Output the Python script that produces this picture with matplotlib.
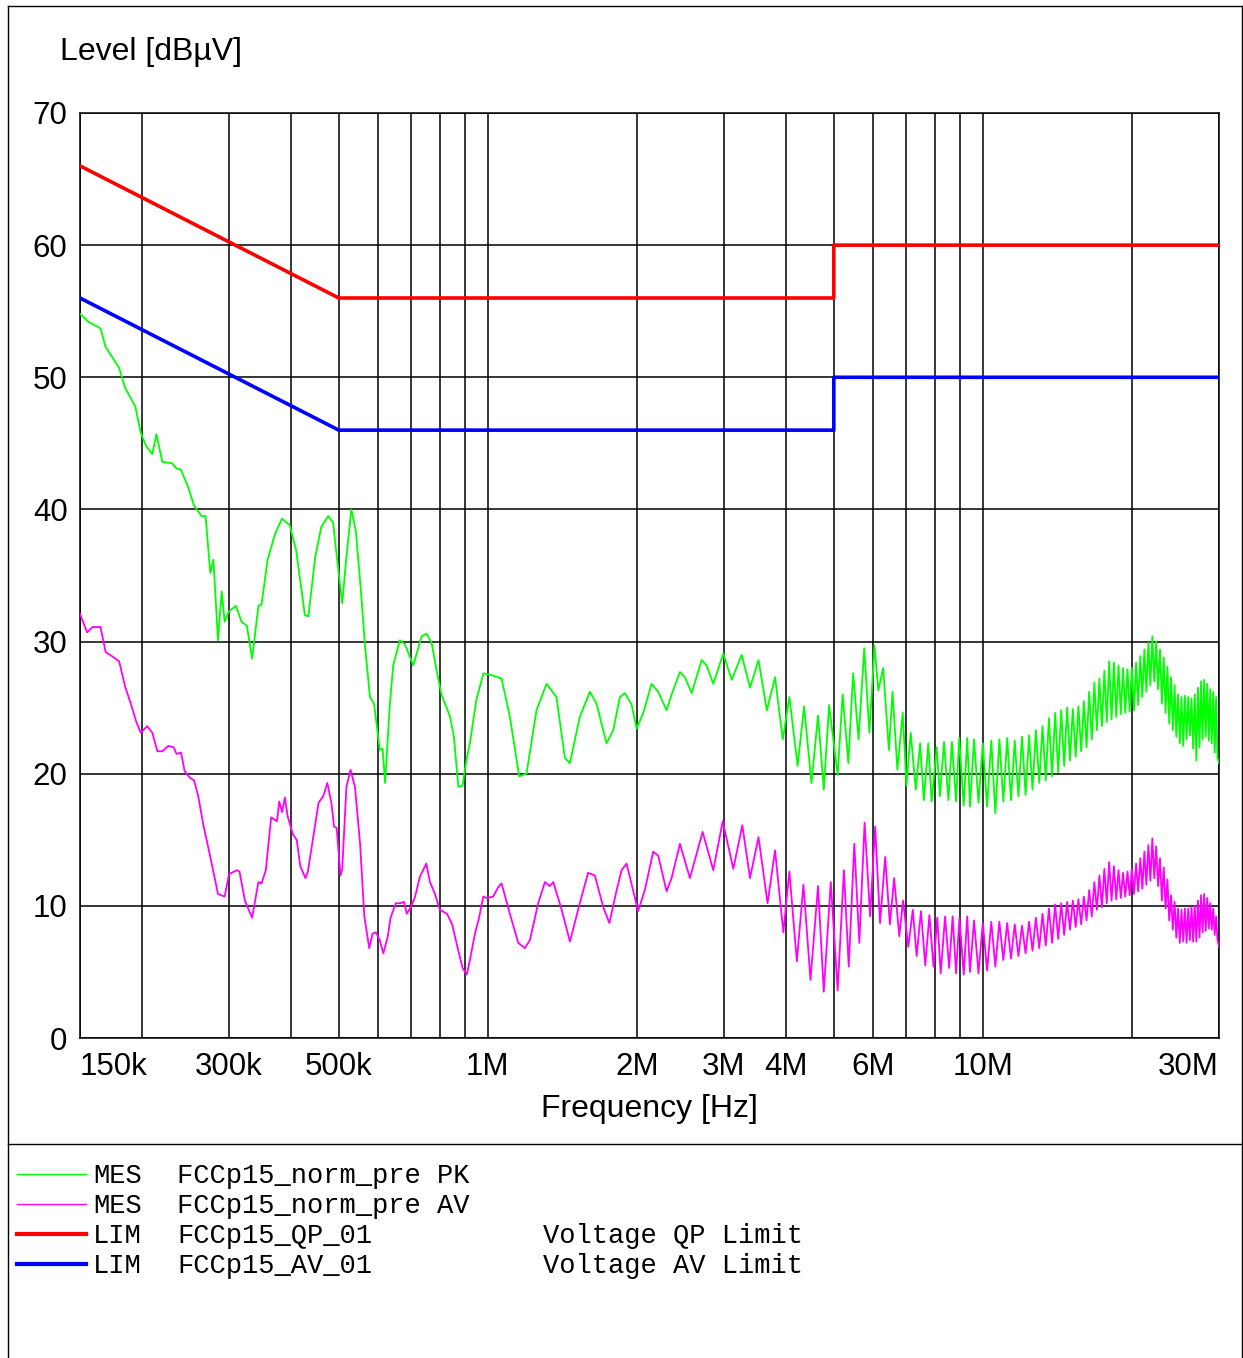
import matplotlib.pyplot as plt
from matplotlib.lines import Line2D
from matplotlib.ticker import NullLocator

plt.rcParams['font.family'] = ['Liberation Sans', 'DejaVu Sans']

# --- measured peak trace (MHz, dBuV) below 10 MHz ---
pk_freq_mhz = [
    0.150, 0.156, 0.165, 0.169, 0.180, 0.185, 0.194, 0.199, 0.204, 0.210,
    0.214, 0.220, 0.230, 0.235, 0.240, 0.248, 0.255, 0.264, 0.269, 0.275,
    0.279, 0.285, 0.290, 0.294, 0.300, 0.310, 0.318, 0.326, 0.334, 0.344,
    0.349, 0.359, 0.372, 0.384, 0.398, 0.410, 0.427, 0.434, 0.448, 0.461,
    0.476, 0.487, 0.491, 0.508, 0.518, 0.530, 0.541, 0.554, 0.565, 0.578,
    0.589, 0.605, 0.613, 0.620, 0.634, 0.644, 0.664, 0.680, 0.707, 0.735,
    0.752, 0.770, 0.788, 0.806, 0.839, 0.854, 0.872, 0.889, 0.905, 0.920,
    0.948, 0.980, 1.009, 1.049, 1.066, 1.108, 1.157, 1.197, 1.254, 1.314,
    1.376, 1.431, 1.465, 1.534, 1.608, 1.658, 1.737, 1.792, 1.849, 1.892,
    1.953, 1.998, 2.060, 2.142, 2.209, 2.297, 2.351, 2.444, 2.501, 2.581,
    2.704, 2.766, 2.854, 2.990, 3.109, 3.257, 3.386, 3.522, 3.662, 3.804,
    3.943, 4.066, 4.225, 4.354, 4.506, 4.646, 4.772, 4.891, 5.09, 5.21,
    5.35, 5.47, 5.61, 5.76, 5.90, 6.04, 6.15, 6.29, 6.46, 6.57,
    6.72, 6.89, 7.01, 7.15, 7.32, 7.47, 7.60, 7.76, 7.88, 8.07,
    8.19, 8.35, 8.52, 8.66, 8.83, 8.96, 9.15, 9.30, 9.42, 9.60,
    9.80]
pk_level = [
    54.8, 54.2, 53.7, 52.3, 50.7, 49.2, 47.8, 45.8, 44.8, 44.2,
    45.7, 43.6, 43.5, 43.1, 43.0, 41.7, 40.3, 39.5, 39.5, 35.2,
    36.2, 30.1, 33.8, 31.5, 32.3, 32.7, 31.5, 31.2, 28.7, 32.7,
    32.8, 36.2, 38.2, 39.3, 38.8, 36.9, 32.0, 31.9, 36.4, 38.7,
    39.5, 39.0, 37.7, 32.9, 36.4, 40.0, 38.4, 33.9, 29.6, 25.8,
    25.3, 21.8, 21.9, 19.3, 25.3, 28.2, 30.1, 29.8, 28.2, 30.4,
    30.6, 29.9, 27.8, 26.0, 24.3, 22.8, 19.0, 19.1, 21.0, 22.3,
    25.6, 27.6, 27.5, 27.3, 27.2, 24.3, 19.8, 20.0, 24.8, 26.8,
    25.8, 21.2, 20.8, 24.3, 26.2, 25.3, 22.3, 23.3, 25.8, 26.1,
    25.2, 23.4, 24.6, 26.8, 26.2, 24.8, 26.0, 27.7, 27.3, 26.1,
    28.6, 28.2, 26.8, 29.1, 27.1, 29.0, 26.5, 28.6, 24.8, 27.3,
    22.6, 25.8, 20.6, 25.1, 19.3, 24.4, 18.8, 25.2, 19.9, 26.0,
    20.8, 27.6, 22.6, 29.5, 23.1, 29.7, 26.3, 28.0, 21.8, 26.2,
    20.3, 24.6, 19.1, 23.1, 18.8, 22.3, 18.0, 22.3, 17.9, 22.0,
    18.3, 22.4, 18.0, 22.4, 17.9, 22.7, 17.6, 22.7, 17.5, 22.6,
    17.8]

# --- measured average trace below 10 MHz ---
av_freq_mhz = [
    0.150, 0.155, 0.159, 0.165, 0.169, 0.174, 0.180, 0.185, 0.190, 0.195,
    0.199, 0.205, 0.210, 0.215, 0.220, 0.226, 0.232, 0.235, 0.240, 0.244,
    0.250, 0.255, 0.260, 0.266, 0.275, 0.285, 0.294, 0.300, 0.311, 0.315,
    0.323, 0.334, 0.344, 0.349, 0.356, 0.365, 0.375, 0.379, 0.384, 0.389,
    0.394, 0.404, 0.411, 0.418, 0.428, 0.433, 0.446, 0.455, 0.465, 0.474,
    0.483, 0.489, 0.495, 0.504, 0.508, 0.518, 0.528, 0.539, 0.552, 0.563,
    0.576, 0.585, 0.594, 0.605, 0.615, 0.628, 0.636, 0.652, 0.666, 0.677,
    0.686, 0.699, 0.713, 0.729, 0.751, 0.764, 0.782, 0.800, 0.827, 0.847,
    0.868, 0.889, 0.907, 0.920, 0.942, 0.960, 0.979, 0.994, 1.025, 1.049,
    1.066, 1.108, 1.152, 1.188, 1.216, 1.264, 1.304, 1.334, 1.356, 1.410,
    1.465, 1.534, 1.594, 1.645, 1.711, 1.760, 1.821, 1.863, 1.907, 1.953,
    2.012, 2.076, 2.158, 2.209, 2.297, 2.351, 2.444, 2.560, 2.716, 2.854,
    2.982, 3.133, 3.267, 3.386, 3.522, 3.674, 3.804, 3.954, 4.066, 4.210,
    4.341, 4.486, 4.646, 4.772, 4.93, 5.09, 5.24, 5.36, 5.50, 5.63,
    5.77, 5.92, 6.06, 6.20, 6.35, 6.49, 6.62, 6.78, 6.90, 7.07,
    7.22, 7.35, 7.50, 7.65, 7.80, 7.95, 8.09, 8.22, 8.39, 8.55,
    8.69, 8.83, 8.97, 9.15, 9.30, 9.42, 9.60, 9.80]
av_level = [
    32.1, 30.7, 31.1, 31.1, 29.2, 28.9, 28.5, 26.6, 25.3, 23.9,
    23.1, 23.6, 23.1, 21.7, 21.7, 22.1, 22.0, 21.5, 21.6, 20.2,
    19.7, 19.5, 18.3, 16.2, 13.7, 10.9, 10.7, 12.4, 12.7, 12.6,
    10.4, 9.1, 11.8, 11.7, 12.7, 16.7, 16.4, 17.9, 17.1, 18.2,
    16.8, 15.4, 15.0, 13.0, 12.1, 12.6, 15.7, 17.8, 18.3, 19.3,
    17.8, 16.0, 15.9, 12.3, 12.8, 19.0, 20.3, 19.0, 14.7, 9.2,
    6.8, 7.9, 8.0, 7.4, 6.4, 7.7, 9.1, 10.2, 10.2, 10.3,
    9.4, 9.9, 10.7, 12.2, 13.2, 11.8, 10.9, 9.7, 9.4, 8.6,
    6.9, 5.3, 4.8, 5.9, 7.9, 9.1, 10.7, 10.6, 10.7, 11.4,
    11.7, 9.4, 7.2, 6.8, 7.4, 10.2, 11.8, 11.5, 11.8, 9.7,
    7.3, 10.2, 12.5, 12.3, 9.9, 8.7, 11.2, 12.7, 13.2, 11.6,
    9.6, 11.2, 14.1, 13.8, 11.1, 12.1, 14.7, 12.1, 15.6, 12.7,
    16.4, 12.8, 16.1, 12.1, 15.2, 10.2, 14.2, 8.0, 12.6, 5.8,
    11.6, 4.4, 11.5, 3.5, 11.8, 3.6, 12.7, 5.4, 14.7, 7.2,
    16.3, 9.2, 16.0, 8.7, 13.7, 8.6, 12.1, 7.7, 10.4, 6.9,
    9.7, 6.2, 9.6, 5.5, 9.3, 5.4, 9.1, 4.9, 9.2, 5.3,
    9.2, 4.9, 9.1, 4.8, 9.2, 5.0, 8.9, 4.9]

# --- dense ripple region 10..30 MHz (alternating peaks / troughs) ---
ripple_freq_mhz = [
    10.0, 10.2, 10.4, 10.6, 10.8, 11.0, 11.2, 11.4, 11.6, 11.8,
    12.0, 12.2, 12.4, 12.6, 12.8, 13.0, 13.2, 13.4, 13.6, 13.8,
    14.0, 14.2, 14.4, 14.6, 14.8, 15.0, 15.2, 15.4, 15.6, 15.8,
    16.0, 16.2, 16.4, 16.6, 16.8, 17.0, 17.2, 17.4, 17.6, 17.8,
    18.0, 18.2, 18.4, 18.6, 18.8, 19.0, 19.2, 19.4, 19.6, 19.8,
    20.0, 20.2, 20.4, 20.6, 20.8, 21.0, 21.2, 21.4, 21.6, 21.8,
    22.0, 22.2, 22.4, 22.6, 22.8, 23.0, 23.2, 23.4, 23.6, 23.8,
    24.0, 24.2, 24.4, 24.6, 24.8, 25.0, 25.2, 25.4, 25.6, 25.8,
    26.0, 26.2, 26.4, 26.6, 26.8, 27.0, 27.2, 27.4, 27.6, 27.8,
    28.0, 28.2, 28.4, 28.6, 28.8, 29.0, 29.2, 29.4, 29.6, 29.8,
    30.0]
pk_ripple_level = [
    22.3, 17.5, 22.5, 17.0, 22.6, 17.9, 22.7, 18.0, 22.5, 18.3,
    22.8, 18.4, 22.9, 18.8, 23.3, 19.3, 23.6, 19.5, 24.2, 19.8,
    24.6, 20.1, 24.8, 20.6, 25.0, 21.0, 24.9, 21.3, 25.1, 21.7,
    25.5, 22.0, 26.2, 22.6, 26.9, 23.3, 27.2, 23.6, 27.8, 23.9,
    28.5, 24.1, 28.4, 24.3, 28.2, 24.5, 28.0, 24.6, 27.9, 24.7,
    28.0, 24.8, 28.4, 25.2, 28.9, 25.8, 29.4, 26.2, 29.9, 26.7,
    30.4, 27.0, 30.0, 26.4, 29.4, 25.3, 28.8, 24.6, 28.1, 23.8,
    27.3, 23.3, 26.7, 22.8, 26.0, 22.3, 25.8, 22.1, 25.9, 22.6,
    25.8, 22.9, 25.7, 21.9, 26.0, 21.0, 26.5, 22.0, 27.0, 22.6,
    27.1, 22.8, 26.8, 22.5, 26.4, 22.3, 26.2, 21.6, 25.8, 21.2,
    20.8]
av_ripple_level = [
    8.7, 5.1, 8.8, 5.4, 8.8, 5.9, 8.7, 6.0, 8.6, 6.2,
    8.5, 6.4, 8.8, 6.6, 9.1, 6.8, 9.4, 7.0, 9.8, 7.2,
    10.1, 7.5, 10.2, 7.8, 10.3, 8.2, 10.4, 8.4, 10.5, 8.6,
    10.7, 8.9, 11.2, 9.2, 11.8, 9.7, 12.3, 9.9, 12.8, 10.2,
    13.3, 10.4, 13.0, 10.5, 12.7, 10.6, 12.5, 10.7, 12.6, 10.8,
    12.8, 10.9, 13.2, 11.1, 13.6, 11.3, 14.1, 11.6, 14.6, 11.9,
    15.1, 12.1, 14.5, 11.5, 13.6, 10.4, 12.9, 9.8, 12.0, 8.9,
    10.8, 8.2, 10.3, 7.6, 9.8, 7.2, 9.7, 7.3, 9.8, 7.2,
    9.8, 7.4, 9.9, 7.3, 10.0, 7.3, 10.4, 7.6, 10.8, 8.0,
    10.9, 8.1, 10.6, 8.3, 10.2, 8.2, 9.8, 7.8, 9.2, 7.4,
    6.9]

# --- limit lines ---
qp_limit_freq = [0.15, 0.5, 5.0, 5.0, 30.0]
qp_limit_level = [66, 56, 56, 60, 60]
av_limit_freq = [0.15, 0.5, 5.0, 5.0, 30.0]
av_limit_level = [56, 46, 46, 50, 50]

grid_freq = [0.15, 0.2, 0.3, 0.4, 0.5, 0.6, 0.7, 0.8, 0.9, 1, 2, 3, 4, 5,
             6, 7, 8, 9, 10, 20, 30]
grid_labels = ['150k', '', '300k', '', '500k', '', '', '', '', '1M', '2M',
               '3M', '4M', '', '6M', '', '', '', '10M', '', '30M']
y_ticks = [0, 10, 20, 30, 40, 50, 60, 70]

legend_kind = ['MES', 'MES', 'LIM', 'LIM']
legend_name = ['FCCp15_norm_pre PK', 'FCCp15_norm_pre AV',
               'FCCp15_QP_01', 'FCCp15_AV_01']
legend_desc = ['', '', 'Voltage QP Limit', 'Voltage AV Limit']
legend_color = ['#00ff00', '#ff00ff', '#ff0000', '#0000ff']
legend_lw = [1.0, 1.0, 3.0, 3.0]

W, H = 1243, 1358
fig = plt.figure(figsize=(W / 100, H / 100), dpi=100)
ax = fig.add_axes([80 / W, 1 - 1038 / H, 1139 / W, 925 / H])

ax.plot(pk_freq_mhz + ripple_freq_mhz, pk_level + pk_ripple_level,
        color='#00ff00', lw=1.3, zorder=3)
ax.plot(av_freq_mhz + ripple_freq_mhz, av_level + av_ripple_level,
        color='#ff00ff', lw=1.3, zorder=3)
ax.plot(qp_limit_freq, qp_limit_level, color='#ff0000', lw=2.6, zorder=4)
ax.plot(av_limit_freq, av_limit_level, color='#0000ff', lw=2.6, zorder=4)

ax.set_xscale('log')
ax.set_xlim(0.15, 30)
ax.set_ylim(0, 70)
ax.set_xticks(grid_freq)
ax.set_xticklabels(grid_labels)
ax.xaxis.set_minor_locator(NullLocator())
ax.set_yticks(y_ticks)
ax.grid(True, color='black', lw=1.1)
ax.set_axisbelow(True)
ax.tick_params(length=0, labelsize=22.5)
ax.tick_params(axis='x', pad=10)
ax.tick_params(axis='y', pad=9)
for s in ax.spines.values():
    s.set_color('black')
    s.set_linewidth(1.1)
xl = ax.get_xticklabels()
xl[0].set_ha('left')
xl[-1].set_ha('right')

fig.text(60 / W, 1 - 52 / H, 'Level [dBµV]', fontsize=23, va='center', ha='left')
fig.text(649 / W, 1 - 1109 / H, 'Frequency [Hz]', fontsize=23,
         va='center', ha='center')

# outer frame and legend separator
fx0, fx1, fy1 = 8 / W, 1242 / W, 1 - 6 / H
for xs, ys in [([fx0, fx0], [0, fy1]), ([fx0, fx1], [fy1, fy1]),
               ([fx1, fx1], [0, fy1]), ([fx0, fx1], [1 - 1144 / H, 1 - 1144 / H])]:
    fig.add_artist(Line2D(xs, ys, transform=fig.transFigure, color='black', lw=1.0))

for i in range(4):
    y = 1 - (1174 + 30 * i) / H
    fig.add_artist(Line2D([17 / W, 86 / W], [y, y], transform=fig.transFigure,
                          color=legend_color[i], lw=legend_lw[i]))
    ty = y - 2 / H
    fig.text(93 / W, ty, legend_kind[i], family='Liberation Mono', fontsize=19.5, va='center')
    fig.text(177 / W, ty, legend_name[i], family='Liberation Mono', fontsize=19.5, va='center')
    if legend_desc[i]:
        fig.text(543 / W, ty, legend_desc[i], family='Liberation Mono', fontsize=19.5, va='center')

fig.savefig('out.png', dpi=100)
